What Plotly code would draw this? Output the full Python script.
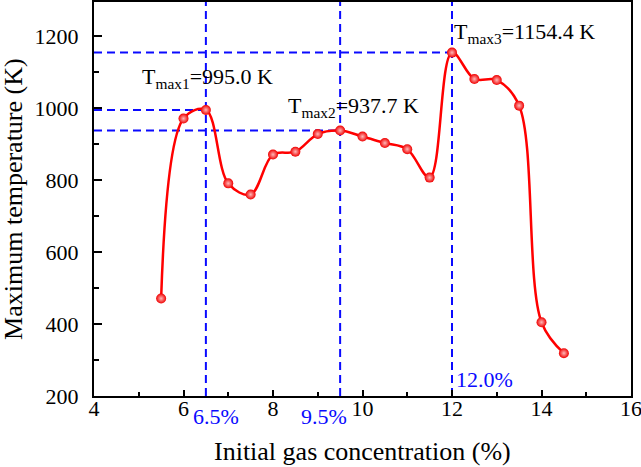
import plotly.graph_objects as go

conc = [5.5, 6.0, 6.5, 7.0, 7.5, 8.0, 8.5, 9.0, 9.5, 10.0, 10.5, 11.0, 11.5, 12.0, 12.5, 13.0, 13.5, 14.0, 14.5]
tmax = [471, 971, 995.0, 791, 760, 871, 879, 928, 937.7, 921, 903, 886, 807, 1154.4, 1081, 1078, 1007, 405, 319]

peak_x = [6.5, 9.5, 12.0]
peak_T = [995.0, 937.7, 1154.4]
peak_labels = ["T<sub>max1</sub>=995.0 K", "T<sub>max2</sub>=937.7 K", "T<sub>max3</sub>=1154.4 K"]
conc_labels = ["6.5%", "9.5%", "12.0%"]

x_ticks = [4, 6, 8, 10, 12, 14, 16]
y_ticks = [200, 400, 600, 800, 1000, 1200]

FONT = "Liberation Serif, Times New Roman, serif"
BLUE = "#0a0aff"

fig = go.Figure()

fig.add_trace(go.Scatter(
    x=conc, y=tmax, mode="lines+markers",
    line=dict(color="#ff0000", width=2.5, shape="spline", smoothing=1),
    marker=dict(size=10, color="#f00000",
                gradient=dict(type="radial", color="#ffb8b8"),
                line=dict(width=0)),
    showlegend=False, hoverinfo="x+y",
))

for px, pt in zip(peak_x, peak_T):
    fig.add_shape(type="line", xref="x", yref="paper", x0=px, x1=px, y0=0, y1=1,
                  line=dict(color=BLUE, width=2, dash="8px,5px"), layer="below")
    fig.add_shape(type="line", xref="x", yref="y", x0=4, x1=px, y0=pt, y1=pt,
                  line=dict(color=BLUE, width=2, dash="8px,5px"), layer="below")

# peak annotations
ann_pos = [(5.02, 1083), (8.3, 1004), (12.0, 1208)]
for (ax, ay), txt in zip(ann_pos, peak_labels):
    fig.add_annotation(x=ax, y=ay, xref="x", yref="y", text=txt, showarrow=False,
                       xanchor="left", yanchor="middle",
                       font=dict(family=FONT, size=22, color="black"))

# concentration labels
lab_pos = [(6.72, -0.053), (9.15, -0.053), (12.73, 0.041)]
for (lx, ly), txt in zip(lab_pos, conc_labels):
    fig.add_annotation(x=lx, y=ly, xref="x", yref="paper", text=txt, showarrow=False,
                       xanchor="center", yanchor="middle",
                       font=dict(family=FONT, size=22, color=BLUE))

# axis titles
fig.add_annotation(x=0.5, y=-0.142, xref="paper", yref="paper",
                   text="Initial gas concentration (%)", showarrow=False,
                   xanchor="center", yanchor="middle",
                   font=dict(family=FONT, size=26, color="black"))
fig.add_annotation(x=-0.151, y=0.5, xref="paper", yref="paper",
                   text="Maximum temperature (K)", showarrow=False, textangle=-90,
                   xanchor="center", yanchor="middle",
                   font=dict(family=FONT, size=26, color="black"))

axis_common = dict(showline=True, linecolor="black", linewidth=2, mirror=True,
                   ticks="inside", tickcolor="black", tickwidth=2,
                   showgrid=False, zeroline=False, automargin=False,
                   ticklabeloverflow="allow",
                   tickfont=dict(family=FONT, size=22, color="black"))

fig.update_xaxes(range=[4, 16], tickvals=x_ticks, ticklen=6,
                 minor=dict(ticks="inside", dtick=1, ticklen=4, tickcolor="black", tickwidth=2),
                 ticklabelstandoff=-8,
                 **axis_common)
fig.update_yaxes(range=[200, 1295], tickvals=y_ticks, ticklen=8,
                 minor=dict(ticks="inside", dtick=100, ticklen=5, tickcolor="black", tickwidth=2),
                 ticklabelstandoff=9,
                 **axis_common)

fig.update_layout(width=641, height=467,
                  margin=dict(l=94, r=10, t=2, b=71),
                  plot_bgcolor="white", paper_bgcolor="white",
                  font=dict(family=FONT))

fig.write_html("out.html", config={"displayModeBar": False},
               post_script="document.body.style.margin='0px';")
